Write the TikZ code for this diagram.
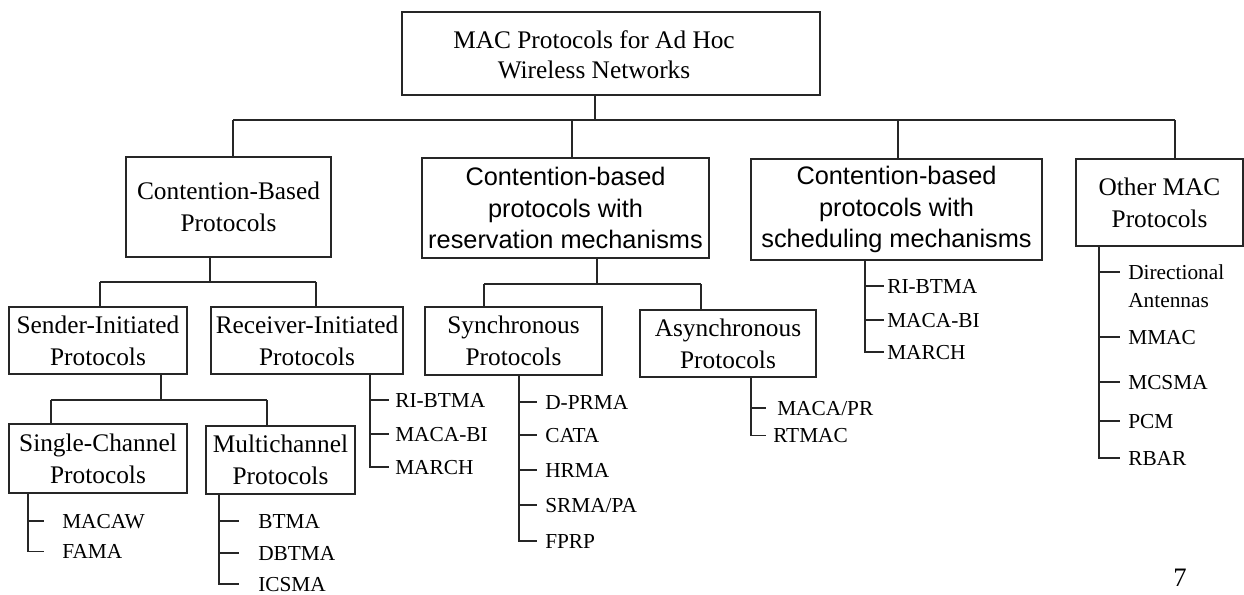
\documentclass[tikz,border=0pt]{standalone}
\usepackage{fontspec}
\newfontfamily\tnr{Liberation Serif}
\newfontfamily\ari{Liberation Sans}
\begin{document}
\begin{tikzpicture}[x=0.75pt,y=-0.75pt,
  line/.style={draw=black!85, line width=1.1pt},
  box/.style={draw=black!85, line width=1.1pt, inner sep=0pt, align=center, font=\tnr\fontsize{19}{24}\selectfont},
  abox/.style={box, font=\ari\fontsize{19}{23.5}\selectfont},
  leaf/.style={anchor=west, inner sep=0pt, text height=10.6pt, text depth=0pt, font=\tnr\fontsize{16}{19}\selectfont}]
\useasboundingbox (0,0) rectangle (1244,595);

% root
\node[box, minimum width=313.5pt, minimum height=62.25pt] (root) at (611,53.5) {};
\node[align=center, inner sep=0pt, font=\tnr\fontsize{19}{22.5}\selectfont] (roottext) at (594,55) {MAC Protocols for Ad Hoc\\Wireless Networks};

% level 1
\node[box, minimum width=153.75pt, minimum height=75pt] (cb) at (228.5,207) {Contention-Based\\Protocols};
\node[abox, minimum width=215.25pt, minimum height=75pt] (res) at (565.5,208) {Contention-based\\protocols with\\reservation mechanisms};
\node[abox, minimum width=218.25pt, minimum height=75.75pt] (sch) at (896.5,209.5) {Contention-based\\protocols with\\scheduling mechanisms};
\node[box, minimum width=125.25pt, minimum height=65.25pt] (oth) at (1159.5,202.5) {Other MAC\\Protocols};

\coordinate (j0) at (595,120);
\coordinate (h1) at (233,120);
\coordinate (h2) at (572,120);
\coordinate (h3) at (898,120);
\coordinate (h4) at (1175,120);
\draw[line] (root.south -| j0) -- (j0);
\draw[line] (h1) -- (h4);
\foreach \n/\b in {h1/cb, h2/res, h3/sch, h4/oth} \draw[line] (\n) -- (\n |- \b.north);

% level 2 under contention-based
\node[box, minimum width=133.5pt, minimum height=50.25pt] (sen) at (98,340.5) {Sender-Initiated\\Protocols};
\node[box, minimum width=144pt, minimum height=50.25pt] (rec) at (307,340.5) {Receiver-Initiated\\Protocols};
\coordinate (j1) at (210,282);
\coordinate (h5) at (100,282);
\coordinate (h6) at (316,282);
\draw[line] (cb.south -| j1) -- (j1);
\draw[line] (h5) -- (h6);
\draw[line] (h5) -- (h5 |- sen.north);
\draw[line] (h6) -- (h6 |- rec.north);

% level 3 under sender-initiated
\node[box, minimum width=133.5pt, minimum height=51.75pt] (sc) at (98,458.5) {Single-Channel\\Protocols};
\node[box, minimum width=111.75pt, minimum height=51pt] (mc) at (280.5,460) {Multichannel\\Protocols};
\coordinate (j2) at (161,400);
\coordinate (h7) at (51,400);
\coordinate (h8) at (267,400);
\draw[line] (sen.south -| j2) -- (j2);
\draw[line] (h7) -- (h8);
\draw[line] (h7) -- (h7 |- sc.north);
\draw[line] (h8) -- (h8 |- mc.north);

% level 2 under reservation
\node[box, minimum width=132.75pt, minimum height=51pt] (syn) at (513.5,341) {Synchronous\\Protocols};
\node[box, minimum width=132pt, minimum height=50.25pt] (asy) at (728,343.5) {Asynchronous\\Protocols};
\coordinate (j3) at (597,284);
\coordinate (h9) at (484,284);
\coordinate (h10) at (701,284);
\draw[line] (res.south -| j3) -- (j3);
\draw[line] (h9) -- (h10);
\draw[line] (h9) -- (h9 |- syn.north);
\draw[line] (h10) -- (h10 |- asy.north);

% leaves: single-channel
\coordinate (s1) at (28,0); \coordinate (t1) at (44,0);
\node[leaf] (l11) at (62,521) {MACAW};
\node[leaf] (l12) at (62,551.5) {FAMA};
\draw[line] (sc.south -| s1) |- (t1 |- l12.west);
\draw[line] (s1 |- l11.west) -- (t1 |- l11.west);

% leaves: multichannel
\coordinate (s2) at (219,0); \coordinate (t2) at (239,0);
\node[leaf] (l21) at (258,521) {BTMA};
\node[leaf] (l22) at (258,553) {DBTMA};
\node[leaf] (l23) at (258,584) {ICSMA};
\draw[line] (mc.south -| s2) |- (t2 |- l23.west);
\foreach \l in {l21,l22} \draw[line] (s2 |- \l.west) -- (t2 |- \l.west);

% leaves: receiver-initiated
\coordinate (s3) at (370,0); \coordinate (t3) at (389,0);
\node[leaf] (l31) at (395,400) {RI-BTMA};
\node[leaf] (l32) at (395,434) {MACA-BI};
\node[leaf] (l33) at (395,467) {MARCH};
\draw[line] (rec.south -| s3) |- (t3 |- l33.west);
\foreach \l in {l31,l32} \draw[line] (s3 |- \l.west) -- (t3 |- \l.west);

% leaves: synchronous
\coordinate (s4) at (519,0); \coordinate (t4) at (537,0);
\node[leaf] (l41) at (545,402) {D-PRMA};
\node[leaf] (l42) at (545,435) {CATA};
\node[leaf] (l43) at (545,470) {HRMA};
\node[leaf] (l44) at (545,505) {SRMA/PA};
\node[leaf] (l45) at (545,541) {FPRP};
\draw[line] (syn.south -| s4) |- (t4 |- l45.west);
\foreach \l in {l41,l42,l43,l44} \draw[line] (s4 |- \l.west) -- (t4 |- \l.west);

% leaves: asynchronous
\coordinate (s5) at (751,0); \coordinate (t5) at (766,0);
\node[leaf] (l51) at (777,408) {MACA/PR};
\node[leaf] (l52) at (773,435.5) {RTMAC};
\draw[line] (asy.south -| s5) |- (t5 |- l52.west);
\draw[line] (s5 |- l51.west) -- (t5 |- l51.west);

% leaves: scheduling
\coordinate (s6) at (865,0); \coordinate (t6) at (884,0);
\node[leaf] (l61) at (887,286) {RI-BTMA};
\node[leaf] (l62) at (887,320) {MACA-BI};
\node[leaf] (l63) at (887,352) {MARCH};
\draw[line] (sch.south -| s6) |- (t6 |- l63.west);
\foreach \l in {l61,l62} \draw[line] (s6 |- \l.west) -- (t6 |- \l.west);

% leaves: other
\coordinate (s7) at (1099,0); \coordinate (t7) at (1120,0);
\node[leaf] (l71) at (1128,272) {Directional};
\node[leaf] (l71b) at (1128,300) {Antennas};
\node[leaf] (l72) at (1128,337) {MMAC};
\node[leaf] (l73) at (1128,382) {MCSMA};
\node[leaf] (l74) at (1128,421) {PCM};
\node[leaf] (l75) at (1128,458) {RBAR};
\draw[line] (oth.south -| s7) |- (t7 |- l75.west);
\foreach \l in {l71,l72,l73,l74} \draw[line] (s7 |- \l.west) -- (t7 |- \l.west);

% page number
\node[inner sep=0pt, font=\tnr\fontsize{20}{24}\selectfont] (pg) at (1180,578) {7};
\end{tikzpicture}
\end{document}
